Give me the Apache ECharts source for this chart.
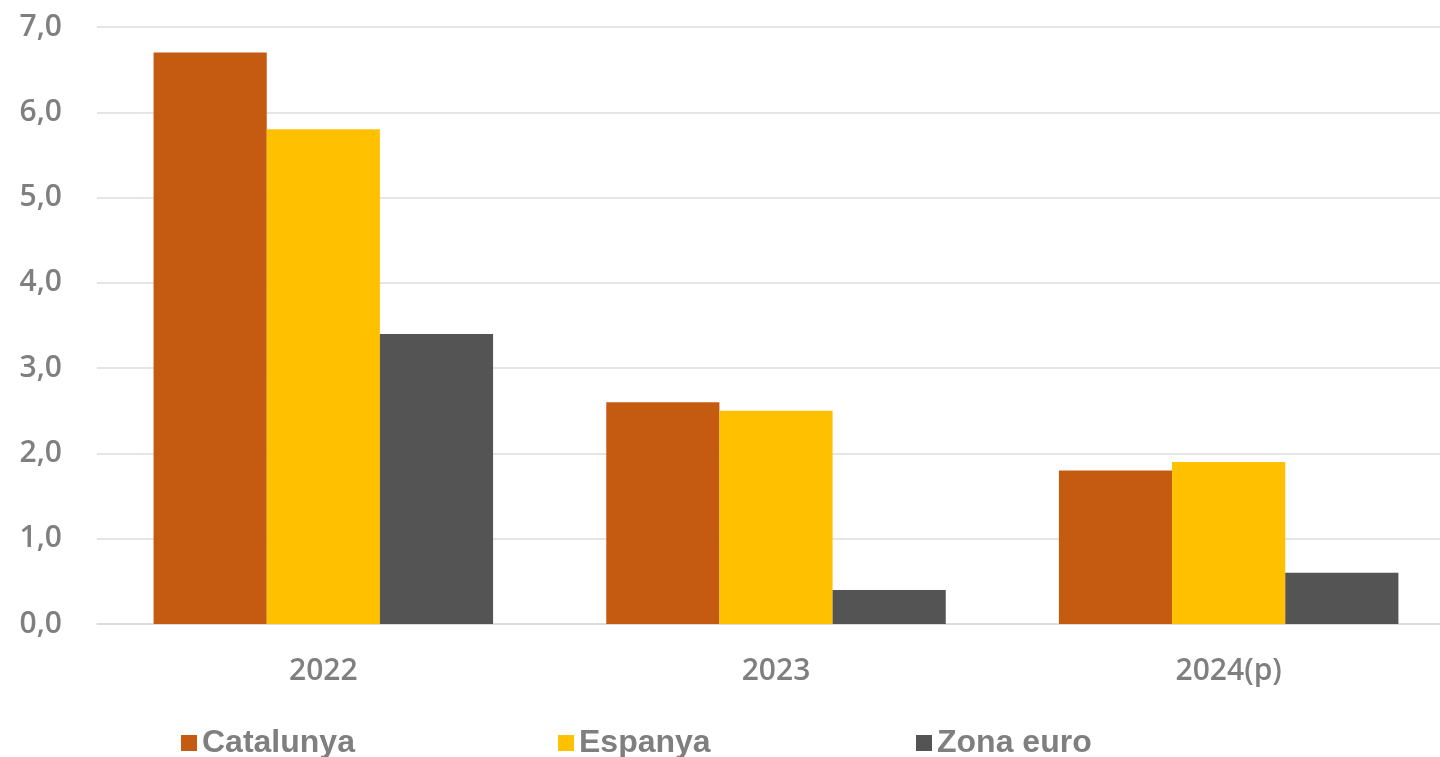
<!DOCTYPE html>
<html>
<head>
    <meta charset="utf-8">
    <title>Catalunya, Espanya, Zona euro</title>
    <script src="https://cdn.jsdelivr.net/npm/echarts@6/dist/echarts.min.js"></script>
</head>
<style>
  html, body { margin: 0; padding: 0; background: #fff; }
</style>
<body>
    <div id="main" style="width: 1440px;height:757px;"></div>
    <script type="text/javascript">
    // dades
    var anys = ['2022', '2023', '2024(p)'];
    var catalunya = [6.7, 2.6, 1.8];
    var espanya = [5.8, 2.5, 1.9];
    var zonaEuro = [3.4, 0.4, 0.6];
    var noms = ['Catalunya', 'Espanya', 'Zona euro'];
    var colors = ['#C55A11', '#FFC000', '#545454'];

    var myChart = echarts.init(document.getElementById('main'));

    var gris = '#7F7F7F';
    var legendLeft = [181, 558, 916];

    function coma(v) {
        return v.toFixed(1).replace('.', ',');
    }

    var series = [catalunya, espanya, zonaEuro].map(function (d, i) {
        return {
            name: noms[i],
            type: 'bar',
            data: d,
            barGap: '0%',
            barCategoryGap: '25%',
            itemStyle: { color: colors[i] }
        };
    });

    var option = {
        animation: false,
        color: colors,
        // la graella surt una mica per la dreta, com a l'original
        grid: {
            left: 97, width: 1358, top: 27, bottom: 133,
            containLabel: false,
            outerBoundsMode: 'none'
        },
        legend: noms.map(function (n, i) {
            return {
                data: [n],
                left: legendLeft[i],
                top: 727,
                padding: 0,
                itemWidth: 16,
                itemHeight: 16,
                itemGap: 7,
                icon: 'rect',
                textStyle: {
                    color: gris,
                    fontFamily: 'Liberation Sans',
                    fontWeight: 'bold',
                    fontSize: 32
                }
            };
        }),
        xAxis: {
            type: 'category',
            data: anys,
            axisTick: { show: false },
            axisLine: { lineStyle: { color: '#D9D9D9', width: 1.5 } },
            axisLabel: {
                color: gris,
                fontFamily: 'Open Sans',
                fontWeight: 600,
                fontSize: 30,
                margin: 32
            }
        },
        yAxis: {
            type: 'value',
            min: 0,
            max: 7,
            interval: 1,
            axisLine: { show: false },
            axisTick: { show: false },
            splitLine: { lineStyle: { color: '#DDDDDD', width: 1.5 } },
            axisLabel: {
                color: gris,
                fontFamily: 'Open Sans',
                fontWeight: 600,
                fontSize: 30,
                margin: 35,
                formatter: coma
            }
        },
        series: series
    };
    myChart.setOption(option);
    </script>
</body>
</html>
